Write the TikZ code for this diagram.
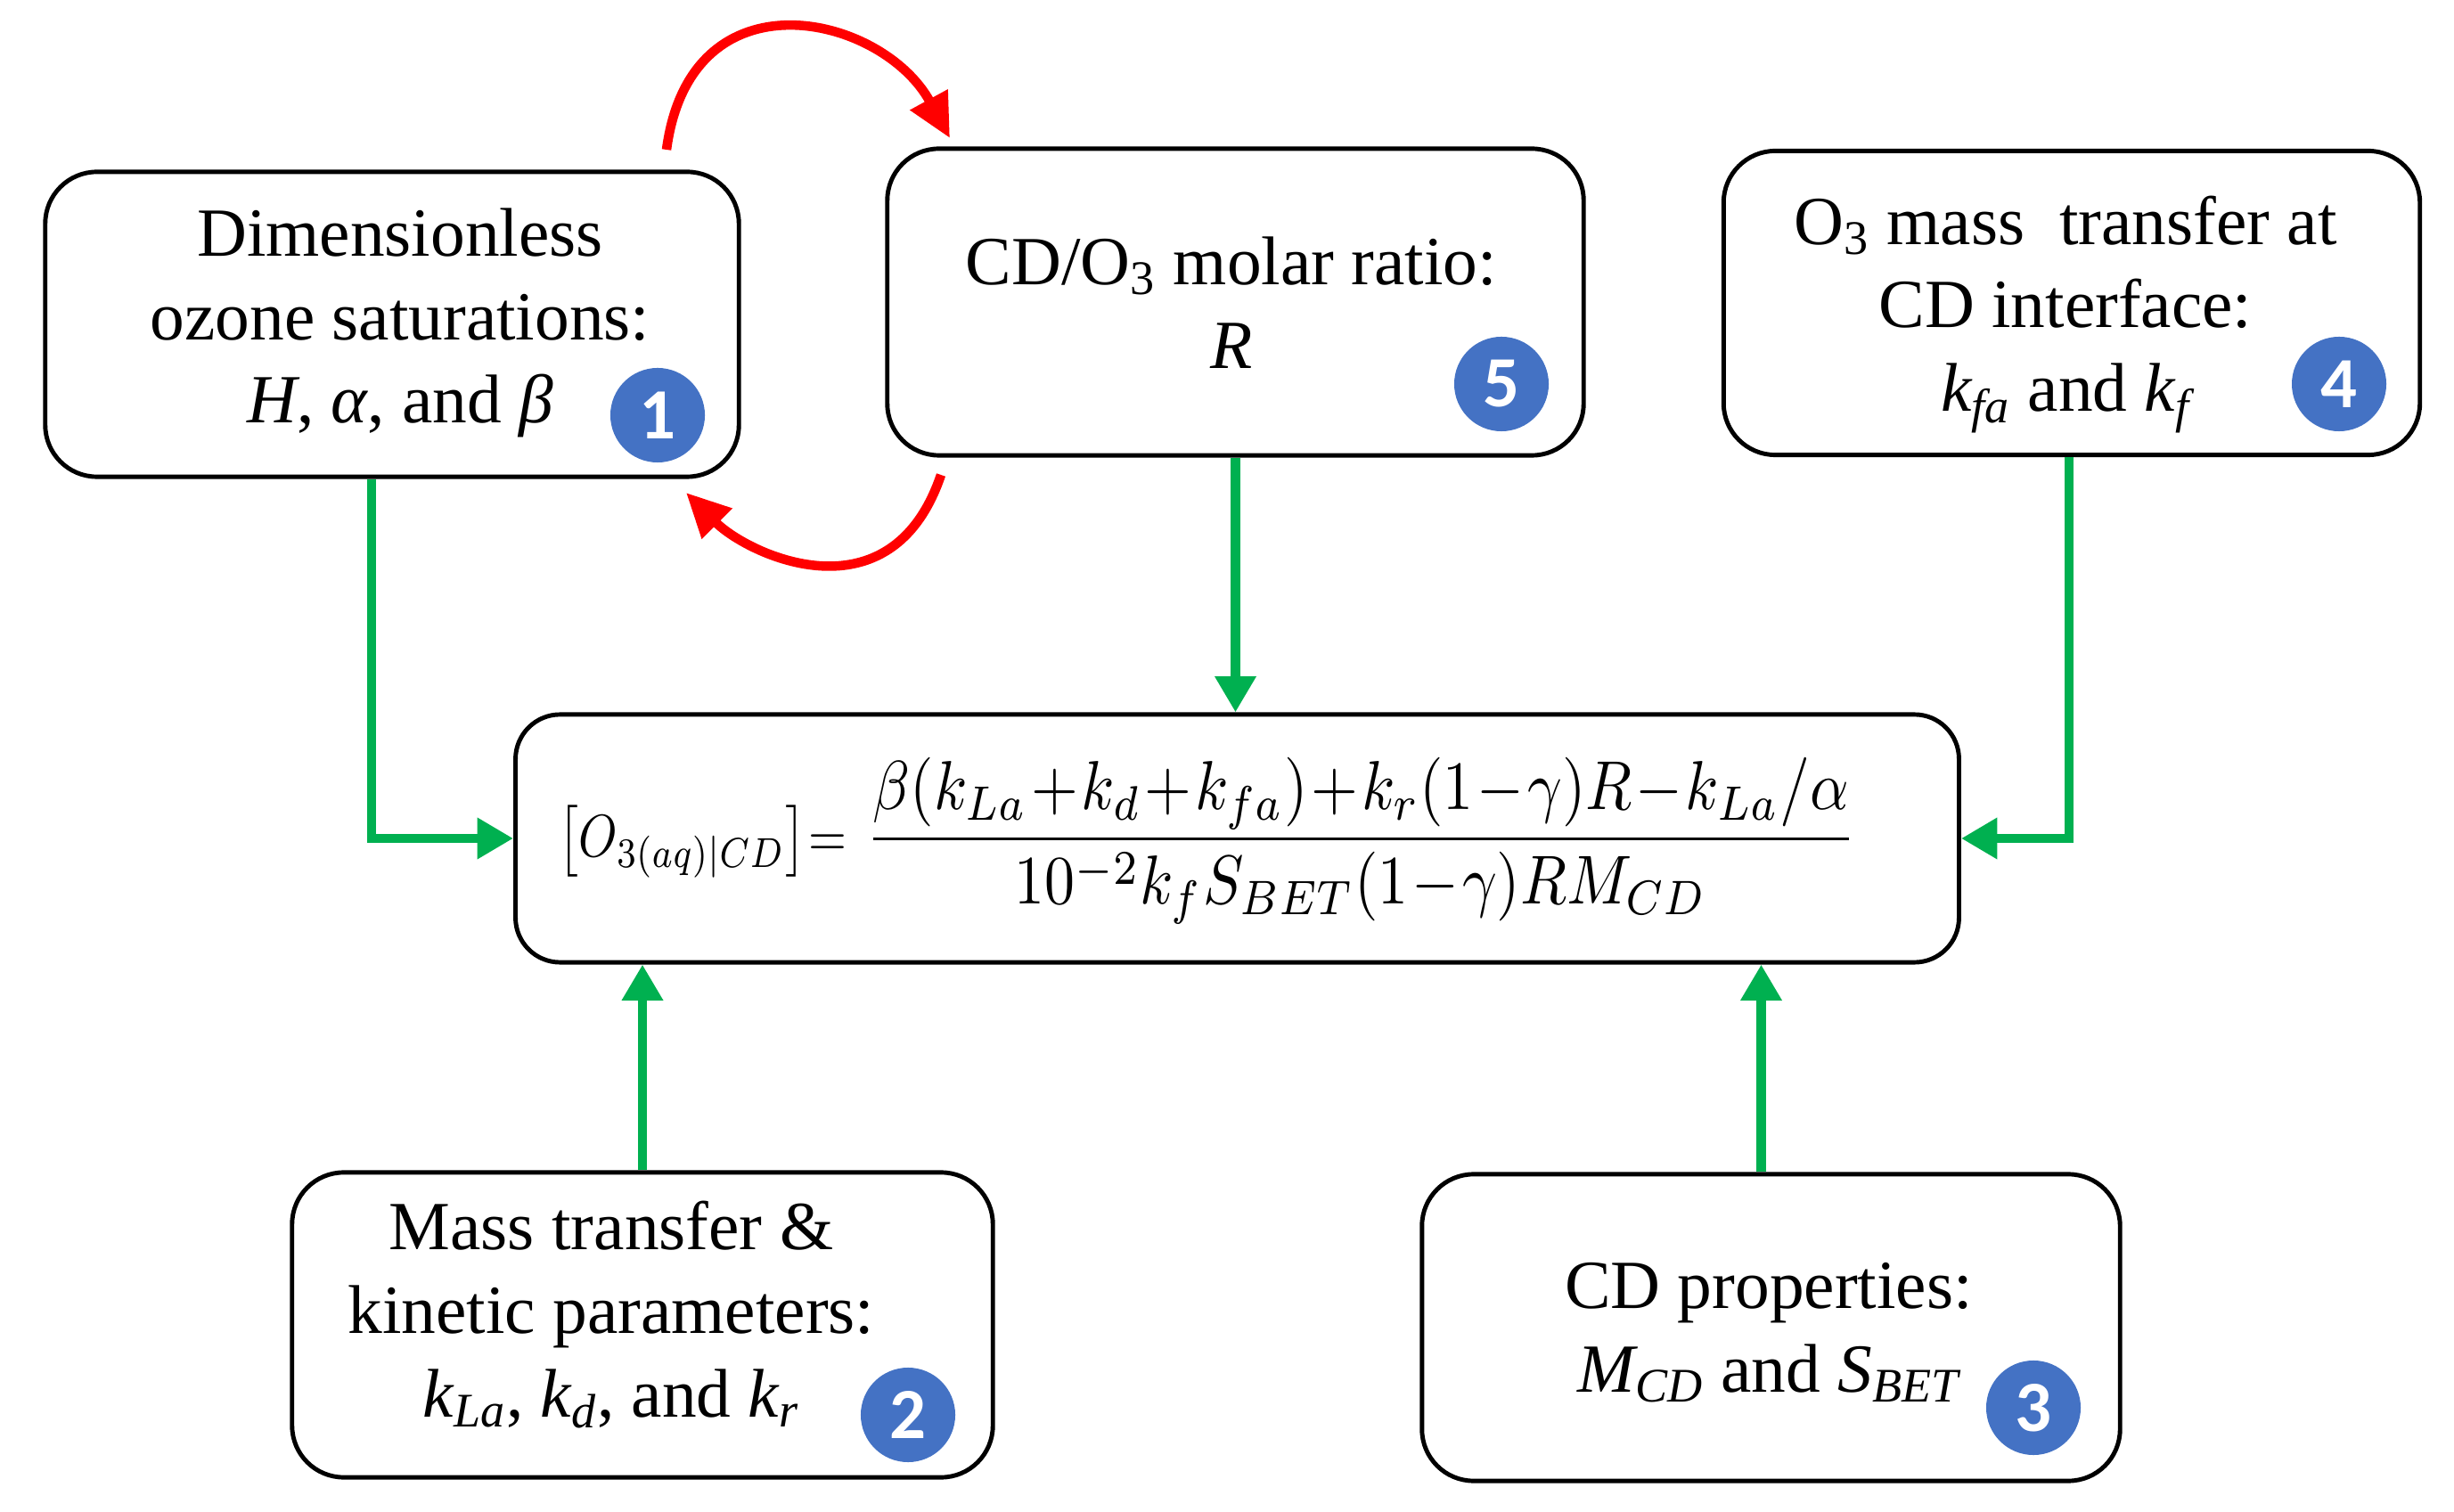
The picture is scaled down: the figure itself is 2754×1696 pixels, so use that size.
\documentclass[tikz,border=0pt]{standalone}
\usepackage{fontspec}
\setmainfont{Liberation Serif}
\newfontfamily\tnrfont{Liberation Serif}
\newfontfamily\badgefont{Carlito}
\usepackage{graphicx}
\usetikzlibrary{arrows.meta}
\definecolor{gline}{HTML}{00B050}
\definecolor{rline}{HTML}{FF0000}
\definecolor{bbadge}{HTML}{4472C4}
\tikzset{
  roundbox/.style={draw, line width=1.4pt, rounded corners=0.58cm, inner sep=0pt, fill=white},
  lbl/.style={align=center, inner sep=0pt, font=\tnrfont\fontsize{22}{26.7}\selectfont},
  badge/.style={circle, fill=bbadge, minimum size=1.06cm, inner sep=0pt, text=white,
    font=\badgefont\bfseries\fontsize{23}{23}\selectfont},
  garrow/.style={draw=gline, line width=3pt, -{Triangle[length=11.5pt,width=12.5pt]}},
  rarrow/.style={draw=rline, line width=3pt, -{Triangle[length=14pt,width=13pt]}}
}
\begin{document}
\begin{tikzpicture}[x=0.01cm,y=0.01cm]
\useasboundingbox (0,0) rectangle (2754,1696);
% boxes
\node[roundbox, minimum width=7.78cm, minimum height=3.42cm] (b1) at (440,1332) {};
\node[roundbox, minimum width=7.81cm, minimum height=3.44cm] (b5) at (1386.5,1357) {};
\node[roundbox, minimum width=7.81cm, minimum height=3.41cm] (b4) at (2325,1356) {};
\node[roundbox, rounded corners=0.5cm, minimum width=16.19cm, minimum height=2.78cm] (f) at (1388.5,755) {};
\node[roundbox, minimum width=7.86cm, minimum height=3.42cm] (b2) at (721,209) {};
\node[roundbox, minimum width=7.83cm, minimum height=3.44cm] (b3) at (1987.5,206) {};
% texts
\node[lbl] (t1) at (449,1333.5) {Dimensionless\\ozone saturations:\\\textit{H}, \textit{α}, and \textit{β}};
\node[lbl] (t5) at (1382,1356) {CD/O\textsubscript{3} molar ratio:\\\textit{R}};
\node[lbl] (t4) at (2318,1343) {O\textsubscript{3} mass\ \ transfer at\\CD interface:\\\textit{k\textsubscript{fa}} and \textit{k\textsubscript{f}}};
\node[lbl] (t2) at (686,220.5) {Mass transfer \&\\kinetic parameters:\\\textit{k\textsubscript{La}}, \textit{k\textsubscript{d}}, and \textit{k\textsubscript{r}}};
\node[lbl] (t3) at (1985,200) {CD properties:\\\textit{M\textsubscript{CD}} and \textit{S\textsubscript{BET}}};
% formula
\node[inner sep=0pt] (fm) at (1355,752.5) {\resizebox*{92pt}{23pt}{$\thickmuskip=1mu
  \left[O_{3(aq)|CD}\right]=$}\hspace{6pt}\resizebox*{316pt}{53pt}{$\medmuskip=1mu\displaystyle
  \frac{\beta(k_{La}+k_d+k_{fa})+k_r(1-\gamma)R-k_{La}/\alpha}{10^{-2}k_fS_{BET}(1-\gamma)RM_{CD}}$}};
% badges
\node[badge] (n1) at (738,1230) {1};
\node[badge] (n5) at (1685,1265) {5};
\node[badge] (n4) at (2625,1265) {4};
\node[badge] (n2) at (1019,108) {2};
\node[badge] (n3) at (2282,116) {3};
% green connectors
\draw[garrow] ([xshift=-0.23cm]b1.south) |- (f.west);
\draw[garrow] (b5.south) -- (b5.south |- f.north);
\draw[garrow] ([xshift=-0.03cm]b4.south) |- (f.east);
\draw[garrow] (b2.north) -- (b2.north |- f.south);
\draw[garrow] ([xshift=-0.11cm]b3.north) -- ([xshift=-0.11cm]b3.north |- f.south);
% red arcs
\coordinate (ua) at (748,1528);
\coordinate (ub) at (1066,1541);
\draw[rarrow] (ua) .. controls (775,1731) and (990,1680) .. (ub);
\coordinate (la) at (1056,1163);
\coordinate (lb) at (770,1143);
\draw[rarrow] (la) .. controls (1000,998) and (840,1073) .. (lb);
\end{tikzpicture}
\end{document}
